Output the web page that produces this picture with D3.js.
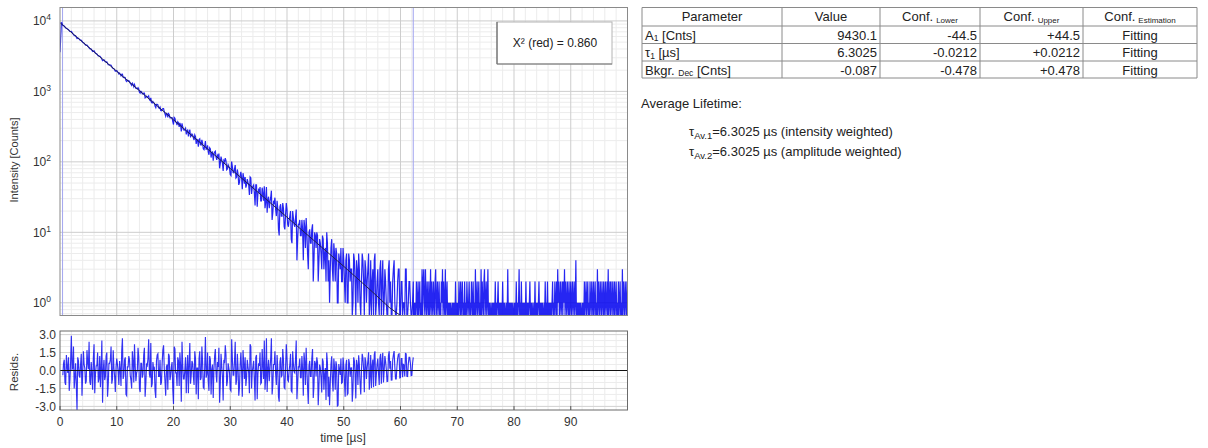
<!DOCTYPE html>
<html>
<head>
<meta charset="utf-8">
<script src="https://cdn.jsdelivr.net/npm/d3@7"></script>
<style>
  body { margin: 0; background: #fff; }
  svg { font-family: "Liberation Sans", Arial, sans-serif; }
</style>
</head>
<body>
<svg id="chart" width="1208" height="448"></svg>
<script>
// decay histogram, 0 .. 62.25 µs, one value every 0.25 µs
const decayStart = 0, decayStep = 0.25;
const decayCounts = [
  3600, 9600, 8673, 8454, 7939, 7760, 7528, 7076, 7106, 6615, 6223, 6142,
  5606, 5691, 5368, 5302, 4985, 4839, 4543, 4551, 4272, 4042,
  3984, 3689, 3772, 3480, 3385, 3175, 3173, 3001, 2724, 2805,
  2624, 2623, 2389, 2382, 2356, 2141, 2098, 1927, 1973, 1850,
  1816, 1659, 1756, 1566, 1564, 1381, 1416, 1383, 1269, 1304,
  1164, 1166, 1101, 1126, 975, 1002, 926, 947, 808, 853,
  835, 766, 808, 686, 691, 617, 656, 645, 575, 536,
  556, 569, 481, 488, 428, 470, 419, 425, 339, 415,
  361, 371, 313, 331, 353, 287, 287, 245, 287, 263,
  228, 248, 219, 241, 180, 204, 207, 175, 205, 153,
  169, 151, 171, 126, 152, 136, 104, 138, 117, 123,
  131, 96, 107, 74, 101, 103, 79, 86, 66, 101,
  71, 79, 59, 78, 47, 65, 59, 69, 49, 43,
  57, 47, 61, 35, 45, 36, 47, 23, 40, 44,
  28, 35, 45, 27, 19, 32, 27, 39, 19, 26,
  21, 28, 11, 23, 17, 26, 12, 18, 21, 12,
  17, 8, 20, 13, 16, 4, 13, 15, 9, 11,
  15, 6, 10, 3, 11, 7, 13, 4, 9, 10,
  2, 8, 5, 9, 3, 6, 10, 2, 1, 6,
  3, 7, 2, 5, 1, 4, 6, 2, 4, 1,
  5, 1, 4, 3, 0, 5, 2, 4, 1, 3,
  0, 5, 2, 4, 1, 3, 0, 4, 2, 0,
  5, 1, 3, 0, 4, 2, 0, 3, 1, 0,
  4, 2, 0, 3, 1, 0, 2, 3, 0, 2,
  1, 0, 3, 0, 2, 1, 0, 2
];

// in-between channels, 10.125 .. 62.125 µs, every 0.25 µs
const decayMidStart = 10.125, decayMidStep = 0.25;
const decayMidCounts = [
  1913, 1767, 1751, 1745, 1586, 1587, 1414, 1444, 1422, 1309,
  1219, 1251, 1251, 1099, 1086, 1079, 946, 982, 917, 947,
  823, 834, 863, 743, 692, 720, 680, 589, 655, 586,
  597, 530, 571, 513, 444, 483, 483, 419, 425, 371,
  426, 368, 333, 358, 357, 271, 312, 281, 300, 271,
  230, 287, 234, 240, 204, 228, 208, 164, 212, 174,
  184, 149, 197, 152, 138, 158, 115, 138, 129, 142,
  107, 116, 81, 119, 96, 105, 113, 77, 91, 81,
  64, 85, 70, 90, 61, 67, 51, 72, 41, 60,
  61, 47, 51, 34, 59, 43, 47, 24, 47, 35,
  38, 28, 43, 28, 22, 44, 29, 22, 31, 15,
  27, 31, 17, 22, 9, 25, 17, 22, 11, 26,
  13, 15, 20, 7, 16, 12, 21, 8, 13, 9,
  15, 4, 12, 16, 5, 10, 7, 11, 2, 10,
  6, 9, 4, 7, 3, 8, 5, 2, 7, 4,
  3, 8, 2, 5, 6, 1, 5, 3, 2, 6,
  2, 4, 1, 5, 2, 3, 1, 4, 0, 3,
  5, 1, 2, 4, 0, 3, 2, 5, 1, 0,
  3, 4, 0, 2, 1, 3, 0, 4, 1, 2,
  0, 3, 1, 0, 2, 4, 0, 1, 3, 0,
  2, 0, 1, 3, 0, 1, 2, 0, 1
];

// background after the fit window, 62.3 .. 100 µs, one value every 0.1 µs
const floorStart = 62.3, floorStep = 0.1;
const floorCounts = [
  0,1,0,
  1,0,2,1,0,2,0,1,2,0, 1,0,3,0,2,3,1,0,3,1, 0,2,1,0,2,0,1,3,0,2,
  1,0,2,1,0,2,3,0,1,2, 0,1,2,0,1,0,2,1,3,0, 2,1,0,3,0,1,2,0,1,0,
  1,0,1,0,0,1,0,1,0,1, 0,2,0,1,0,1,0,2,1,0, 2,0,1,2,0,1,0,2,0,1,
  0,2,1,0,1,2,0,1,0,2, 1,0,2,0,1,0,3,0,1,2, 0,1,2,0,1,0,3,0,2,1,
  0,2,3,0,1,2,0,1,3,0, 1,0,1,0,0,1,0,1,0,1, 0,2,0,1,0,1,2,0,1,0,
  1,0,1,0,2,0,1,0,1,0, 0,1,0,3,0,1,0,1,0,1, 0,1,0,0,1,0,1,0,2,0,
  1,0,1,3,0,1,0,2,0,1, 0,1,0,1,0,2,0,1,0,1, 0,1,2,0,1,0,1,0,0,1,
  0,2,0,1,0,1,0,1,2,0, 1,0,1,0,1,0,0,1,0,2, 0,1,0,2,0,1,0,1,0,1,
  0,1,2,0,1,0,2,1,0,2, 0,3,1,2,0,1,2,0,1,2, 0,2,1,3,0,2,1,0,2,1,
  0,2,0,1,2,0,1,2,0,1, 2,0,1,4,0,1,0,1,0,1, 0,1,0,0,1,0,1,0,2,0,
  1,2,0,1,2,0,1,0,2,1, 0,2,1,0,2,0,1,2,0,1, 0,3,0,2,1,0,2,1,0,2,
  1,0,2,0,1,2,0,1,2,0, 3,0,1,2,0,2,1,0,2,1, 0,2,0,1,2,0,1,0,2,0,
  1,2,0,1,0,3,0,2,1,0, 2,1,0,2,1
];

// weighted residuals, 0.5 .. 62.25 µs, every 0.25 µs
const residStart = 0.5, residStep = 0.25;
const residuals = [
  -0.4, 0.9, -1.2, 0.3, 1.1, -0.8, 2.9, 0.2, -1.5, 0.6,
  -3.3, 0.8, -0.6, 1.4, -0.2, 0.5, -1.1, 1.7, 0.1, -0.9,
  0.7, -1.6, 2.2, -0.3, 0.4, -1.0, 1.2, 0.3, -2.7, 0.9,
  -0.5, 1.5, -1.2, 0.6, 2.0, -0.7, 0.2, -1.8, 1.0, -0.1,
  0.8, -1.3, 2.7, -0.4, 1.1, -2.1, 0.3, 0.9, -0.8, 1.6,
  -1.0, 0.4, -0.2, 1.9, -1.5, 0.6, -0.6, 1.3, -2.2, 0.5,
  1.0, -0.3, 2.3, -1.1, 0.1, -1.7, 0.8, 1.4, -0.5, -1.2,
  0.6, 2.1, -0.9, 0.3, -1.6, 1.2, -0.4, 0.7, -2.8, 1.8,
  -0.2, 1.1, -1.3, 0.4, 2.4, -0.7, 0.0, -1.9, 1.3, 0.5,
  -1.1, 0.8, -0.5, 1.6, -2.0, 0.2, 1.0, -0.8, 2.0, -1.4,
  0.3, -0.6, 1.5, -1.7, 0.9, 0.1, -2.3, 1.2, -0.3, 0.7,
  1.9, -1.0, 0.4, -2.5, 0.6, 1.3, -0.9, 0.2, -1.6, 2.6,
  -0.4, 0.8, -1.2, 1.4, -2.1, 0.5, 0.0, 1.7, -0.7, -1.3,
  0.9, -0.2, 2.2, -1.5, 0.3, -0.8, 1.1, -2.4, 0.6, 1.5,
  -1.0, 0.4, 2.5, -0.6, -1.8, 0.9, 0.1, 2.7, -1.2, 0.5,
  -0.3, 1.3, -2.2, 0.7, -0.5, 1.8, -1.4, 0.2, 1.0, -0.9,
  0.5, -1.7, 1.6, -0.1, 0.9, -2.4, 0.3, 1.0, -0.6, 0.1,
  1.5, -1.2, 0.2, -2.8, 0.8, -0.5, 1.8, -1.3, 0.6, 1.1,
  -2.9, 0.5, -0.6, 1.0, -1.6, 0.2, 1.5, -2.2, -2.9, 0.5,
  -0.9, 1.0, -1.6, 0.4, -2.9, 0.1, 1.0, -1.0, 0.4, -2.2,
  0.9, -1.9, 0.6, 0.2, -2.6, 1.1, -0.3, 0.9, -1.2, 0.5,
  -2.0, 1.4, 0.1, 1.1, -0.7, 0.8, -1.6, 1.3, 0.4, -1.4,
  1.6, -0.3, 1.0, -1.2, 1.4, 0.7, -1.0, 1.2, 0.1, -0.9,
  1.6, 0.8, -0.8, 1.3, 0.3, -0.7, 1.0, 1.4, -0.6, 1.0,
  0.5, -0.5, 1.4, -0.5, 1.1, 0.6, -0.4, 1.1
];

// residuals of the in-between channels, 0.625 .. 62.125 µs
const residMidStart = 0.625, residMidStep = 0.25;
const residualsMid = [
  0.6, -1.0, 1.3, -0.2, -1.7, 0.8, 0.1, 2.0, -0.6, -1.3,
  1.1, -0.4, 0.5, -2.1, 1.6, 0.2, -0.9, 0.7, 2.4, -1.2,
  -0.3, 1.0, -1.9, 0.4, 1.5, -0.7, -1.4, 2.5, 0.0, -0.8,
  1.2, -2.2, 0.6, 0.9, -1.1, 1.7, -0.5, 0.3,
  0.5, -1.2, 0.1, 1.6, -0.7, 0.9, -2.0, 0.3, 1.2, -0.4,
  -1.5, 0.8, 2.2, -0.9, 0.0, 1.1, -1.8, 0.6, -0.3, 1.9,
  -1.1, 0.4, 2.6, -0.6, -1.4, 0.7, 0.2, -2.3, 1.3, -0.5,
  0.9, -1.0, 1.7, 0.1, -2.1, 0.5, 1.4, -0.8, 0.3, -1.6,
  2.0, -0.2, -1.3, 0.8, 1.5, -2.6, 0.4, -0.7, 1.1, 0.0,
  -1.9, 2.3, -0.4, 0.6, -1.2, 1.0, 0.2, -2.4, 1.6, -0.6,
  0.7, -1.5, 2.8, -0.3, -0.9, 1.2, -2.0, 0.5, 0.1, 1.8,
  -1.0, 0.3, -2.7, 1.4, -0.5, 0.9, 2.1, -1.3, 0.6, -0.2,
  -1.7, 1.0, -0.4, 2.4, -0.8, 0.2, -1.4, 1.5, -2.2, 0.6,
  1.1, -0.6, 0.3, -1.9, 2.0, -0.1, 0.8, -2.5, 1.3, -0.3,
  0.4, -1.1, 1.8, -0.7, -1.6, 2.7, 0.1, -0.9, 1.0, -2.0,
  0.5, 1.6, -1.2, 0.2, -2.6, 1.1, -0.4, 0.9, -1.5, 2.2,
  -0.8, 0.0, 1.4, -1.8, 0.6, -0.2, 2.5, -1.1, 0.3, -0.6,
  1.2, -2.1,
  0.7, 1.9, -1.4, 0.4, -0.5, 1.0, -2.3, 0.8, -0.5, 0.68,
  -1.34, 0.22, -1.83, 0.73, -0.31, -2.46, 0.66, -0.52, -1.07, 1.18,
  -1.75, 0.32, 0.77, -2.96, 0.54, -0.38, -1.06, 1.08, -0.87, 0.45,
  -2.0, 0.96, -0.53, 0.21, -1.53, 0.79, -2.33, 0.44, 1.27, -1.06,
  0.0, 1.05, -1.82, 0.72, 0.23, 1.52, -0.54, -1.47, 0.92, 1.32,
  -1.30, 0.53, -0.2, 1.07, -1.10, 1.48, 0.0, 0.74, -0.92, 1.22,
  0.15, -0.81, 0.87, 1.63, -0.70, 0.33, 1.36, -0.62, 1.0, -0.57,
  0.45, 1.43, -0.49, 0.53, 1.10, -0.43, 0.59
];

// mono-exponential fit curve
const fitTimes  = [0, 10, 20, 30, 40, 50, 55, 58, 60, 62.25];
const fitCounts = [9430, 1929, 395, 80.7, 16.4, 3.29, 1.44, 0.86, 0.61, 0.40];
const fitRange = [0.45, 62.25];

const xTicks = [0, 10, 20, 30, 40, 50, 60, 70, 80, 90];
const yDecades = [0, 1, 2, 3, 4];
const residTicks = [3, 1.5, 0, -1.5, -3];

const chiText = "X² (red) = 0.860";

const tableHeader = [
  { main: "Parameter" }, { main: "Value" },
  { main: "Conf.", sub: "Lower" }, { main: "Conf.", sub: "Upper" },
  { main: "Conf.", sub: "Estimation" }
];
const tableRows = [
  [{ pre: "A", sub: "1", post: " [Cnts]" }, "9430.1", "-44.5", "+44.5", "Fitting"],
  [{ pre: "τ", sub: "1", post: " [µs]" }, "6.3025", "-0.0212", "+0.0212", "Fitting"],
  [{ pre: "Bkgr. ", sub: "Dec", post: " [Cnts]" }, "-0.087", "-0.478", "+0.478", "Fitting"]
];
const lifetimes = [
  { sub: "Av.1", text: "=6.3025 µs (intensity weighted)" },
  { sub: "Av.2", text: "=6.3025 µs (amplitude weighted)" }
];

const svg = d3.select("#chart");
const main = { left: 60, right: 627.5, top: 7.5, bottom: 315.5 };
const rp = { top: 331, bottom: 410 };

const x = d3.scaleLinear().domain([0, 100]).range([main.left, main.right]);
const y = d3.scaleLog().domain([0.66, 15500]).range([main.bottom, main.top]).clamp(true);
const yr = d3.scaleLinear().domain([-3.3, 3.3]).range([rp.bottom, rp.top]);

const defs = svg.append("defs");
defs.append("clipPath").attr("id", "clipMain").append("rect")
  .attr("x", main.left).attr("y", main.top)
  .attr("width", main.right - main.left).attr("height", main.bottom - main.top);
defs.append("clipPath").attr("id", "clipRes").append("rect")
  .attr("x", main.left).attr("y", rp.top)
  .attr("width", main.right - main.left).attr("height", rp.bottom - rp.top);

// ---- grids
const minorX = d3.range(0, 100, 2).filter(v => v % 10 !== 0);
const minorY = [];
for (let k = -1; k <= 4; k++) {
  for (let m = 2; m <= 9; m++) {
    const v = m * Math.pow(10, k);
    if (v > 0.66 && v < 15500) minorY.push(v);
  }
}

function vGrid(g, vals, y0, y1, color) {
  g.selectAll(null).data(vals).join("line")
    .attr("x1", d => x(d)).attr("x2", d => x(d))
    .attr("y1", y0).attr("y2", y1)
    .attr("stroke", color).attr("stroke-width", 1);
}

const grid = svg.append("g");
vGrid(grid, minorX, main.top, main.bottom, "#ececec");
vGrid(grid, minorX, rp.top, rp.bottom, "#ececec");
grid.selectAll(null).data(minorY).join("line")
  .attr("x1", main.left).attr("x2", main.right)
  .attr("y1", d => y(d)).attr("y2", d => y(d))
  .attr("stroke", "#ececec");
grid.selectAll(null).data(d3.range(-3, 3.01, 0.5)).join("line")
  .attr("x1", main.left).attr("x2", main.right)
  .attr("y1", d => yr(d)).attr("y2", d => yr(d))
  .attr("stroke", "#ececec");

vGrid(grid, xTicks.slice(1), main.top, main.bottom, "#cdcdcd");
vGrid(grid, xTicks.slice(1), rp.top, rp.bottom, "#cdcdcd");
grid.selectAll(null).data(yDecades).join("line")
  .attr("x1", main.left).attr("x2", main.right)
  .attr("y1", d => y(Math.pow(10, d))).attr("y2", d => y(Math.pow(10, d)))
  .attr("stroke", "#cdcdcd");
grid.selectAll(null).data(residTicks).join("line")
  .attr("x1", main.left).attr("x2", main.right)
  .attr("y1", d => yr(d)).attr("y2", d => yr(d))
  .attr("stroke", "#d4d4d4");

// ---- decay data (all channels merged in time order)
const series = (vals, start, step) => vals.map((v, i) => ({ t: start + i * step, v }));
const decayPts = series(decayCounts, decayStart, decayStep)
  .concat(series(decayMidCounts, decayMidStart, decayMidStep))
  .concat(series(floorCounts, floorStart, floorStep))
  .sort((a, b) => a.t - b.t);
const residPts = series(residuals, residStart, residStep)
  .concat(series(residualsMid, residMidStart, residMidStep))
  .sort((a, b) => a.t - b.t);

const plotMain = svg.append("g").attr("clip-path", "url(#clipMain)");

plotMain.selectAll(null).data(fitRange).join("line")
  .attr("x1", d => x(d)).attr("x2", d => x(d))
  .attr("y1", main.top).attr("y2", main.bottom)
  .attr("stroke", "#a3a6f0").attr("stroke-width", 1);

const dataLine = d3.line().x(d => x(d.t)).y(d => y(Math.max(d.v, 0.5)));
plotMain.append("path").datum(decayPts)
  .attr("d", dataLine)
  .attr("fill", "none").attr("stroke", "#0000f0")
  .attr("stroke-opacity", 0.85).attr("stroke-width", 1.2);

const fitLine = d3.line().x((d, i) => x(fitTimes[i])).y(d => y(d));
plotMain.append("path").datum(fitCounts)
  .attr("d", fitLine)
  .attr("fill", "none").attr("stroke", "#22224a").attr("stroke-width", 1);

// ---- residuals
const plotRes = svg.append("g").attr("clip-path", "url(#clipRes)");
plotRes.append("path").datum(residPts)
  .attr("d", d3.line().x(d => x(d.t)).y(d => yr(d.v)))
  .attr("fill", "none").attr("stroke", "#0000f0")
  .attr("stroke-opacity", 0.8).attr("stroke-width", 1.15);
plotRes.append("line")
  .attr("x1", main.left).attr("x2", main.right)
  .attr("y1", yr(0)).attr("y2", yr(0))
  .attr("stroke", "#111").attr("stroke-width", 1.2);

// ---- frames
svg.append("rect")
  .attr("x", main.left).attr("y", main.top)
  .attr("width", main.right - main.left).attr("height", main.bottom - main.top)
  .attr("fill", "none").attr("stroke", "#8a8a8a");
svg.append("rect")
  .attr("x", main.left).attr("y", rp.top)
  .attr("width", main.right - main.left).attr("height", rp.bottom - rp.top)
  .attr("fill", "none").attr("stroke", "#6a6a6a");

svg.append("g").selectAll(null).data(xTicks).join("line")
  .attr("x1", d => x(d)).attr("x2", d => x(d))
  .attr("y1", rp.bottom).attr("y2", rp.bottom - 4)
  .attr("stroke", "#555");

// ---- axis labels
const labelColor = "#333";
svg.append("g").selectAll(null).data(xTicks).join("text")
  .attr("x", d => x(d)).attr("y", 426)
  .attr("text-anchor", "middle").attr("font-size", 12).attr("fill", labelColor)
  .text(d => d);

svg.append("text").attr("x", 343).attr("y", 442)
  .attr("text-anchor", "middle").attr("font-size", 12).attr("fill", labelColor)
  .text("time [µs]");

const yl = svg.append("g").selectAll(null).data(yDecades).join("text")
  .attr("x", 51).attr("y", d => y(Math.pow(10, d)) + 4.5)
  .attr("text-anchor", "end").attr("font-size", 12).attr("fill", labelColor);
yl.append("tspan").text("10");
yl.append("tspan").attr("dy", -5).attr("font-size", 8.5).text(d => d);

svg.append("g").selectAll(null).data(residTicks).join("text")
  .attr("x", 56).attr("y", d => yr(d) + 4.5)
  .attr("text-anchor", "end").attr("font-size", 12).attr("fill", labelColor)
  .text(d => d3.format(".1f")(d).replace("−", "-"));

svg.append("text").attr("transform", "translate(18,160) rotate(-90)")
  .attr("text-anchor", "middle").attr("font-size", 11).attr("fill", labelColor)
  .text("Intensity [Counts]");
svg.append("text").attr("transform", "translate(18,372) rotate(-90)")
  .attr("text-anchor", "middle").attr("font-size", 11.5).attr("fill", labelColor)
  .text("Resids.");

// ---- chi² box
const chi = svg.append("g");
chi.append("rect").attr("x", 497).attr("y", 22).attr("width", 115).attr("height", 42)
  .attr("fill", "#fff").attr("stroke", "#b4b4b4");
chi.append("line").attr("x1", 497).attr("x2", 497).attr("y1", 22).attr("y2", 64).attr("stroke", "#555");
chi.append("line").attr("x1", 497).attr("x2", 612).attr("y1", 64).attr("y2", 64).attr("stroke", "#777");
chi.append("text").attr("x", 555).attr("y", 47).attr("text-anchor", "middle")
  .attr("font-size", 12).attr("fill", "#222").text(chiText);

// ---- parameter table
const colEdges = [642, 782, 880, 980, 1083, 1197];
const rowEdges = [7.5, 26, 43.5, 61, 78];
const table = svg.append("g").attr("font-size", 13).attr("fill", "#222");
table.selectAll(null).data(rowEdges).join("line")
  .attr("x1", colEdges[0]).attr("x2", colEdges[colEdges.length - 1])
  .attr("y1", d => d).attr("y2", d => d).attr("stroke", "#8a8a8a");
table.selectAll(null).data(colEdges).join("line")
  .attr("x1", d => d).attr("x2", d => d)
  .attr("y1", rowEdges[0]).attr("y2", rowEdges[rowEdges.length - 1]).attr("stroke", "#8a8a8a");

tableHeader.forEach((h, j) => {
  const t = table.append("text")
    .attr("x", (colEdges[j] + colEdges[j + 1]) / 2).attr("y", rowEdges[0] + 13.5)
    .attr("text-anchor", "middle");
  t.append("tspan").text(h.main);
  if (h.sub) t.append("tspan").attr("font-size", 8).attr("dx", 3).attr("dy", 2).text(h.sub);
});

tableRows.forEach((row, i) => {
  const base = rowEdges[i + 1] + 13.5;
  row.forEach((cell, j) => {
    if (j === 0) {
      const t = table.append("text").attr("x", colEdges[0] + 3).attr("y", base);
      t.append("tspan").text(cell.pre);
      t.append("tspan").attr("font-size", 8.5).attr("dy", 1.5).text(cell.sub);
      t.append("tspan").attr("dy", -1.5).text(cell.post);
    } else if (j === 4) {
      table.append("text").attr("x", (colEdges[4] + colEdges[5]) / 2).attr("y", base)
        .attr("text-anchor", "middle").text(cell);
    } else {
      table.append("text").attr("x", colEdges[j + 1] - 3).attr("y", base)
        .attr("text-anchor", "end").text(cell);
    }
  });
});

// ---- average lifetime
const avg = svg.append("g").attr("font-size", 13).attr("fill", "#222");
avg.append("text").attr("x", 641).attr("y", 108).text("Average Lifetime:");
lifetimes.forEach((l, i) => {
  const t = avg.append("text").attr("x", 689).attr("y", 136 + i * 20);
  t.append("tspan").text("τ");
  t.append("tspan").attr("font-size", 9.5).attr("dy", 3).text(l.sub);
  t.append("tspan").attr("dy", -3).text(l.text);
});
</script>
</body>
</html>
